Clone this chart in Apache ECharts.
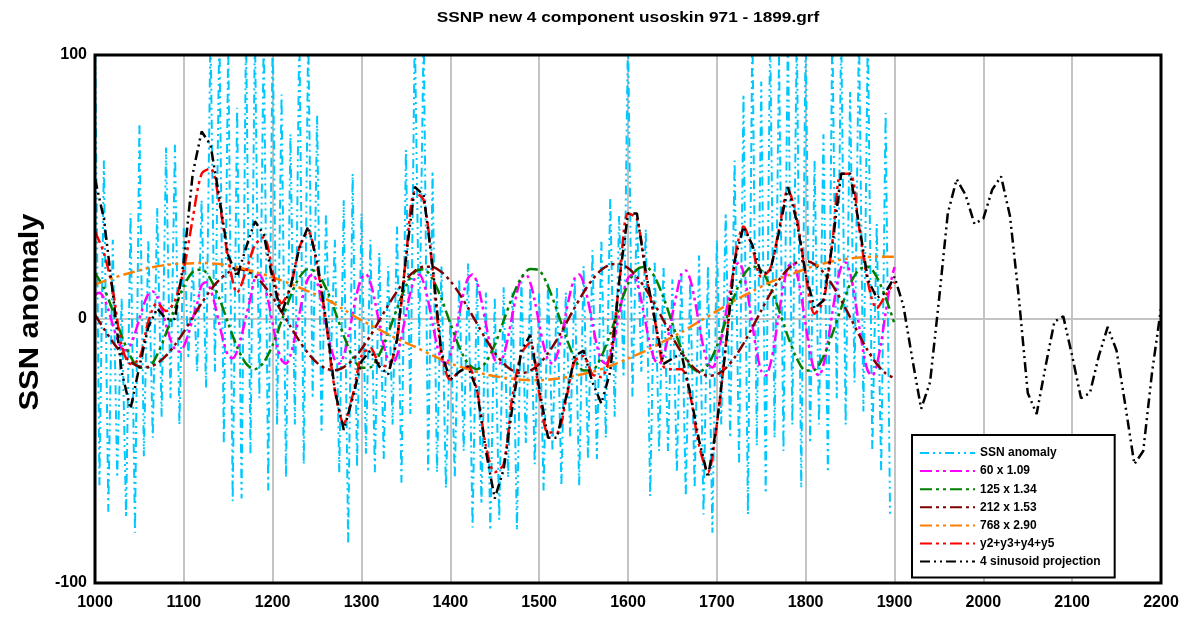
<!DOCTYPE html>
<html><head><meta charset="utf-8">
<script src="https://cdn.jsdelivr.net/npm/echarts/dist/echarts.min.js"></script>
<style>html,body{margin:0;padding:0;background:#fff}#c{width:1189px;height:626px}</style>
</head><body><div id="c"></div><script>
// ---------- data ----------
const xTicks = [1000,1100,1200,1300,1400,1500,1600,1700,1800,1900,2000,2100,2200];
const yTicks = [-100, 0, 100];
const seriesNames = ['SSN anomaly','60 x 1.09','125 x 1.34','212 x 1.53','768 x 2.90','y2+y3+y4+y5','4 sinusoid projection'];

// SSN anomaly, every 5 years 1000..1895
const ssnStart = 1000, ssnStep = 5;
const ssnValues = [
 110,-63,60,-73,30,-60,8,-75,40,-81,74,-52,30,-45,42,-37,65,-30,66,-40,
 35,-15,20,-20,45,-26,110,-20,110,-47,105,-69,80,-68,110,-51,110,-30,110,-65,
 110,-40,85,-60,70,-40,110,-55,110,-30,77,-43,40,-20,30,-58,45,-85,55,-56,
 40,-51,30,-58,25,-53,20,-40,35,-62,64,-36,110,-10,110,-58,56,-58,20,-64,
 0,-60,15,-50,21,-79,15,-70,10,-80,8,-76,12,-60,10,-80,15,-47,12,-55,
 10,-65,14,-50,12,-63,10,-45,15,-63,20,-53,26,-53,30,-45,46,-37,39,-22,
 110,-30,40,-20,34,-67,22,-50,20,-50,15,-58,18,-67,15,-64,24,-74,20,-81,
 30,-40,40,-45,60,-55,85,-74,110,-48,90,-66,110,-45,100,-50,110,-40,110,-64,
 110,-47,60,-40,70,-58,110,-30,110,-40,86,-24,110,-35,110,-50,36,-58,78,-74
];

// 60-year component, every 5 years 1000..1900
const m60Start = 1000, m60Step = 5;
const m60Values = [
 9.1,9.9,7.9,3.5,-2.2,-7.5,-11.1,-11.9,-9.9,-5.5,0.2,5.5,
 9.5,10.4,8.3,3.7,-2.2,-7.8,-11.5,-12.4,-10.3,-5.7,0.2,5.8,
 12.8,13.9,11.2,5.4,-2.0,-9.0,-13.8,-14.9,-12.2,-6.4,1.0,8.0,
 15.5,16.9,13.8,6.9,-1.8,-10.0,-15.5,-16.9,-13.8,-6.9,1.8,10.0,
 15.5,16.9,13.8,6.9,-1.8,-10.0,-15.5,-16.9,-13.8,-6.9,1.8,10.0,
 15.5,16.9,13.8,6.9,-1.8,-10.0,-15.5,-16.9,-13.8,-6.9,1.8,10.0,
 15.5,16.9,13.8,6.9,-1.8,-10.0,-15.5,-16.9,-13.8,-6.9,1.8,10.0,
 15.5,16.9,13.8,6.9,-1.8,-10.0,-15.5,-16.9,-13.8,-6.9,1.8,10.0,
 15.5,16.9,13.8,6.9,-1.8,-10.0,-15.5,-16.9,-13.8,-6.9,1.8,10.0,
 15.5,16.9,13.8,6.9,-1.8,-10.0,-15.5,-16.9,-13.8,-6.9,1.8,10.0,
 15.5,16.9,13.8,6.9,-1.8,-10.0,-15.5,-16.9,-13.8,-6.9,1.8,10.0,
 16.9,18.4,15.0,7.5,-1.9,-10.9,-16.9,-18.4,-15.0,-7.5,1.9,10.9,
 19.7,21.4,17.4,8.8,-2.3,-12.6,-19.7,-21.4,-17.4,-8.8,2.3,12.6,
 19.7,21.4,17.4,8.8,-2.3,-12.6,-19.7,-21.4,-17.4,-8.8,2.3,12.6,
 19.7,21.4,17.4,8.8,-2.3,-12.6,-19.7,-21.4,-17.4,-8.8,2.3,12.6,
 19.7
];

// 125-year component, every 10 years 1000..1900
const g125Start = 1000, g125Step = 10;
const g125Values = [
 17.5,11.7,3.1,-6.3,-14.2,-18.5,-18.3,-13.5,-5.4,4.0,12.5,17.8,18.8,15.1,7.7,-1.7,-10.6,-16.9,-19.0,-16.4,-9.8,-0.7,8.5,15.7,18.9,
 17.5,11.7,3.1,-6.3,-14.2,-18.5,-18.3,-13.5,-5.4,4.0,12.5,17.8,18.8,15.1,7.7,-1.7,-10.6,-16.9,-19.0,-16.4,-9.8,-0.7,8.5,15.7,18.9,
 18.4,12.3,3.3,-6.6,-14.9,-19.5,-19.3,-14.2,-5.7,4.2,13.2,18.7,19.8,15.9,8.1,-1.8,-11.2,-17.8,-20.0,-17.3,-10.3,-0.7,8.9,16.5,19.9,
 18.4,12.3,3.3,-6.6,-14.9,-19.5,-19.3,-14.2,-5.7,4.2,13.2,18.7,19.8,15.9,8.1,-1.8
];

// 212-year component, every 10 years 1000..1900
const b212Start = 1000, b212Step = 10;
const b212Values = [
 1.6,-3.7,-8.7,-13.0,-16.2,-18.0,-18.2,-16.8,-13.9,-9.8,
 -4.9,0.6,6.0,10.9,14.9,17.6,18.8,18.4,16.3,12.8,
 8.2,2.8,-2.8,-8.3,-13.0,-16.6,-18.8,-19.4,-18.2,-15.5,
 -11.4,-6.3,-0.6,5.2,10.5,15.0,18.2,19.8,19.7,17.8,
 14.4,9.7,4.1,-1.8,-7.6,-12.8,-16.9,-19.5,-20.5,-19.6,
 -17.1,-13.0,-7.8,-1.8,4.3,10.1,15.0,18.6,20.6,20.9,
 19.3,16.0,11.3,5.6,-0.6,-6.9,-12.5,-17.0,-20.1,-21.5,
 -21.0,-18.6,-14.6,-9.3,-3.2,3.2,9.4,14.8,18.9,21.4,
 22.0,20.7,17.6,12.9,7.1,0.7,-5.9,-12.0,-17.0,-20.6,-22.4
];

// 768-year component, every 20 years 1000..1900
const o768Start = 1000, o768Step = 20;
const o768Values = [
 13,15.5,17.5,19.3,20.5,21,21.2,20.8,19.6,17.8,15.8,13.3,10.5,7.5,3.6,-0.5,-4,-7.5,-10.5,-13.8,
 -16.8,-19,-21,-22.2,-23,-23.2,-22.6,-21.5,-20,-17.8,-15,-12,-8.5,-5,-1,3,7,10.5,14,16.5,
 19,21,22.5,23.3,23.6,23.6
];

// sum of the four components, every 10 years 1000..1900
const sumStart = 1000, sumStep = 10;
const sumValues = [
 33,25,11,-10,-17,-15,-1,6,3,7,
 19,38,55,57,44,23,10,18,28,31,
 18,6,12,27,33,20,-1,-27,-39.5,-29,
 -14,-11,-17,-18,-7,23,48,45,19,-13,
 -23,-20,-18,-27,-48,-58,-55,-29,-13,-9,
 -28,-43,-43,-31,-16,-14,-21,-22,-13,13,
 40,38,17,0,-18,-19,-19,-29,-48,-58,
 -40,-10,22,35,27,16,19,34,49,38,
 17,2,7,29,55,55,35,14,4,9,14
];

// 4 sinusoid projection, every 10 years 1000..2200
const projStart = 1000, projStep = 10;
const projValues = [
 53,38,10,-20,-34,-18,-3,4,0,0,
 22,55,71,66,46,24,16,27,37,32,
 15,2,12,27,35,22,0,-27,-42,-30,
 -16,-12,-18,-21,-8,23,50,47,20,-13,
 -23,-20,-18,-27,-50,-68,-57,-33,-12,-6,
 -26,-45,-45,-30,-14,-12,-24,-32,-20,14,
 40,40,18,0,-17,-15,-13,-28,-46,-60,
 -40,-11,22,35,28,17,18,33,50,37,
 17,4,7,28,55,55,36,15,8,10,
 16,5,-15,-34,-24,7,40,53,47,36,
 38,49,54,39,8,-28,-36,-18,-1,1,
 -14,-30,-28,-14,-3,-12,-33,-55,-50,-20,
 4
];

// ---------- chart ----------
const FONT = '"Liberation Sans", Arial, sans-serif';
function pairs(start, step, vals){ return vals.map((v,i)=>[start+i*step, v]); }
function mk(name, data, color, width, dash, smooth, z){
  return { name, type:'line', data, symbol:'none', smooth: smooth, z: z,
    lineStyle:{ color, width, type: dash, cap:'butt' }, itemStyle:{ color },
    emphasis:{ disabled:true }, animation:false };
}
const dash = [12,4,3,4,3,4];
const G = { left:95, right:28, top:55, bottom:43 };
const chart = echarts.init(document.getElementById('c'), null, {renderer:'canvas'});
chart.setOption({
  animation:false,
  backgroundColor:'#fff',
  grid:{ left:G.left, right:G.right, top:G.top, bottom:G.bottom, show:false },
  xAxis:{ type:'value', min:xTicks[0], max:xTicks[xTicks.length-1], interval:100,
    axisLine:{show:false}, axisTick:{show:false},
    axisLabel:{ color:'#000', fontSize:16, fontWeight:'bold', fontFamily:FONT, margin:12, formatter:(v)=>String(v) },
    splitLine:{ show:true, lineStyle:{ color:'#c4c4c4', width:2 } } },
  yAxis:{ type:'value', min:yTicks[0], max:yTicks[yTicks.length-1], interval:100,
    axisLine:{show:false}, axisTick:{show:false},
    axisLabel:{ color:'#000', fontSize:16, fontWeight:'bold', fontFamily:FONT, margin:8, formatter:(v)=>String(v) },
    splitLine:{ show:true, lineStyle:{ color:'#c4c4c4', width:2 } } },
  legend:{ orient:'vertical', left:912, top:435, padding:[12,14,10,7],
    itemWidth:55, itemHeight:14, itemGap:6.1, itemTextGap:7,
    borderColor:'#000', borderWidth:2, backgroundColor:'#fff',
    itemStyle:{ opacity:0, borderWidth:0 },
    textStyle:{ color:'#000', fontSize:12, fontWeight:'bold', fontFamily:FONT },
    data: seriesNames, z: 20 },
  graphic:[
    { type:'text', x:628, y:18, scaleX:1.15, style:{ text:'SSNP new 4 component usoskin 971 - 1899.grf', textAlign:'center', textVerticalAlign:'middle', verticalAlign:'middle', font:'bold 15px '+FONT, fill:'#000' } },
    { type:'text', x:30, y:312, rotation:Math.PI/2, scaleX:1.1, style:{ text:'SSN anomaly', textAlign:'center', textVerticalAlign:'middle', verticalAlign:'middle', font:'bold 28px '+FONT, fill:'#000' } },
    { type:'rect', z:15, silent:true, shape:{ x:G.left, y:G.top, width:1189-G.left-G.right, height:626-G.top-G.bottom }, style:{ fill:null, stroke:'#000', lineWidth:3 } }
  ],
  series:[
    mk(seriesNames[0], pairs(ssnStart, ssnStep, ssnValues), '#00c8ff', 2, [9,4,2,4,2,4], false, 2),
    mk(seriesNames[1], pairs(m60Start, m60Step, m60Values), '#ff00ff', 2.5, dash, 0.3, 3),
    mk(seriesNames[2], pairs(g125Start, g125Step, g125Values), '#008000', 2.5, dash, 0.3, 4),
    mk(seriesNames[3], pairs(b212Start, b212Step, b212Values), '#800000', 2.5, dash, 0.3, 5),
    mk(seriesNames[4], pairs(o768Start, o768Step, o768Values), '#ff7f00', 2.5, dash, 0.3, 6),
    mk(seriesNames[5], pairs(sumStart, sumStep, sumValues), '#ff0000', 2.5, dash, 0.3, 7),
    mk(seriesNames[6], pairs(projStart, projStep, projValues), '#000000', 2.5, [10,4,2,4,2,4], false, 8)
  ]
});
</script></body></html>
